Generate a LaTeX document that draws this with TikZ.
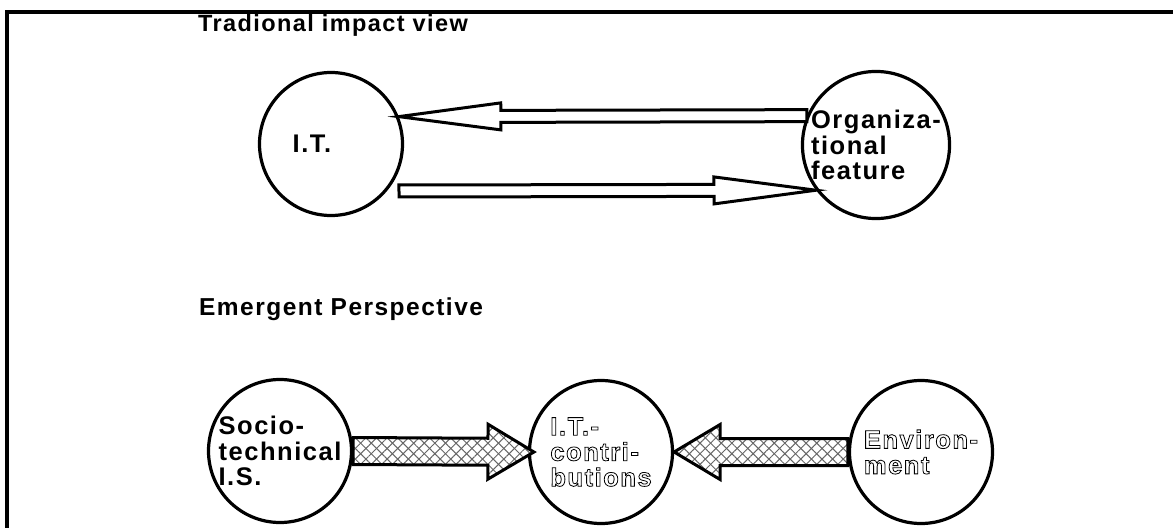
\documentclass[tikz,border=0pt]{standalone}
\usepackage{fontspec}
\setmainfont{Liberation Sans}[LetterSpace=6]
\usetikzlibrary{calc,patterns.meta}
% outlined (hollow) glyphs
\newcommand\hollowtxt[1]{\special{pdf:literal direct 1 Tr 0.8 w}#1\special{pdf:literal direct 0 Tr}}
\newcommand\lblfont{\fontsize{25.5}{25.5}\selectfont\bfseries}

\begin{document}
\begin{tikzpicture}[x=1pt, y=-1pt,
  bubble/.style={circle, draw, line width=3.2pt, minimum size=143pt,
             inner sep=0pt, align=left, font=\lblfont},
  ttl/.style={anchor=base west, inner sep=0pt, font=\bfseries},
  fat/.style args={#1/#2/#3}{to path={
    ($(\tikztostart)!#1!90:(\tikztotarget)$)
    -- ($(\tikztotarget)!#3!(\tikztostart)!#1!90:(\tikztotarget)$)
    -- ($(\tikztotarget)!#3!(\tikztostart)!#2!90:(\tikztotarget)$)
    -- (\tikztotarget)
    -- ($(\tikztotarget)!#3!(\tikztostart)!#2!-90:(\tikztotarget)$)
    -- ($(\tikztotarget)!#3!(\tikztostart)!#1!-90:(\tikztotarget)$)
    -- ($(\tikztostart)!#1!-90:(\tikztotarget)$) -- cycle}},
  thinarrow/.style={draw, line width=3pt, fill=white, fat=6pt/13.5pt/102pt},
  hatched/.style={draw, line width=3pt,
             preaction={fill=white},
             preaction={pattern={Lines[angle=45,distance=7.5pt,line width=1pt]}, pattern color=black!60},
             preaction={pattern={Lines[angle=-45,distance=7.5pt,line width=1pt]}, pattern color=black!60},
             fat=13.5pt/27.5pt/46pt},
  frame/.style={line width=3.5pt},
]
\useasboundingbox (0,0) rectangle (1173,528);
\draw[frame] (1173,12) -- (7,12) -- (7,528);

\node[ttl, font=\fontsize{23.5}{23.5}\selectfont\bfseries] (trad) at (198,31) {Tradional impact view};
\node[ttl, font=\fontsize{24.5}{24.5}\selectfont\bfseries] (emer) at (199,315) {Emergent Perspective};

\node[bubble, label={[font=\lblfont, xshift=-19pt]center:I.T.}] (it) at (331,144) {};
\node[bubble] (org) at (876,145) {Organiza-\\tional\\feature};

\node[bubble] (soc) at (280,451) {Socio-\\technical\\I.S.};
\node[bubble] (con) at (601,452) {\hollowtxt{I.T.-\\contri-\\butions}};
\node[bubble] (env) at (921,452) {\hollowtxt{Environ-\\ment}};

\draw[thinarrow] (org.157) to (it.22);
\draw[thinarrow] ([xshift=12pt]it.-40) to (org.-143);

\draw[hatched] (soc.east) to ([xshift=6pt]con.west);
\draw[hatched] (env.west) to (con.east);
\end{tikzpicture}
\end{document}
